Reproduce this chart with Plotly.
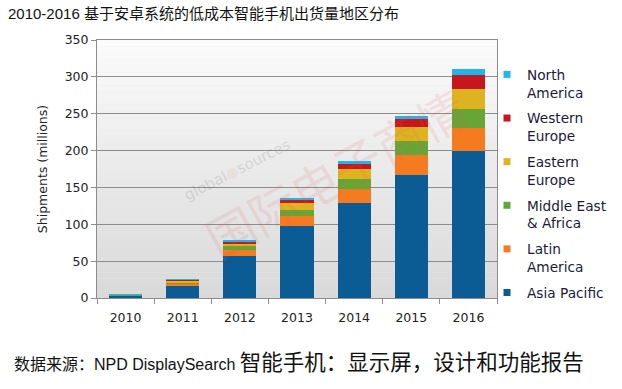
import plotly.graph_objects as go

years = ["2010", "2011", "2012", "2013", "2014", "2015", "2016"]
asia_pacific = [3.5, 17, 57, 98, 128.5, 167, 199]
latin_america = [0.4, 2, 8, 13.5, 19, 27, 31]
middle_east_africa = [0.3, 2.5, 5.5, 8, 13.5, 19, 27]
eastern_europe = [0.5, 2, 4, 9, 14, 19, 27]
western_europe = [0.2, 1, 2, 4.5, 6.5, 11, 19]
north_america = [0.1, 0.8, 1, 2.3, 4.5, 4, 8]

series = [
    ("Asia Pacific", asia_pacific, "#0B5C94"),
    ("Latin<br>America", latin_america, "#F47B20"),
    ("Middle East<br>& Africa", middle_east_africa, "#67A536"),
    ("Eastern<br>Europe", eastern_europe, "#DDB420"),
    ("Western<br>Europe", western_europe, "#C8161E"),
    ("North<br>America", north_america, "#22B5EC"),
]

font_main = "DejaVu Sans, Verdana, sans-serif"
cjk = "Liberation Sans, Arial, Noto Sans CJK SC, sans-serif"

fig = go.Figure()
for name, vals, col in series:
    fig.add_trace(go.Bar(x=years, y=vals, name=name, marker_color=col,
                         marker_line_width=0, showlegend=False))
# legend entries (small square symbols), North America first
for i, (name, vals, col) in enumerate(reversed(series)):
    fig.add_trace(go.Scatter(x=[None], y=[None], mode="markers", name=name,
                             legendgroup=str(i),
                             marker=dict(symbol="square", size=7, color=col)))

# gradient background bands
shapes = []
n = 40
for k in range(n):
    t = k / n
    v = int(218 + (252 - 218) * t)
    shapes.append(dict(type="rect", xref="paper", yref="paper", x0=0, x1=1,
                       y0=t, y1=(k + 1) / n, layer="below", line_width=0,
                       fillcolor=f"rgb({v},{v},{v})"))

fig.update_layout(
    width=622, height=389,
    margin=dict(l=97, r=125, t=40, b=91, autoexpand=False),
    barmode="stack", bargap=0.42,
    paper_bgcolor="white", plot_bgcolor="#e8e8e8",
    shapes=shapes,
    font=dict(family=font_main, size=12.5, color="#222222"),
    showlegend=True,
    title=dict(text="2010-2016 基于安卓系统的低成本智能手机出货量地区分布",
               x=8/622, xanchor="left", xref="container",
               y=1 - 14/389, yanchor="middle", yref="container",
               font=dict(family=cjk, size=15, color="#111111")),
    legend=dict(x=(487-97)/400, y=(298-59)/258, xanchor="left", yanchor="top",
                traceorder="grouped", tracegroupgap=5,
                valign="top", itemwidth=30,
                font=dict(family=font_main, size=13.7, color="#1a1a3a"),
                bgcolor="rgba(0,0,0,0)"),
)

ann = []
ann.append(dict(text="<span style='font-size:16px'>数据来源：NPD DisplaySearch </span>智能手机：显示屏，设计和功能报告",
                x=-97/400 + 12/400, y=-(363-298)/258, xref="paper", yref="paper",
                xanchor="left", yanchor="middle", showarrow=False,
                font=dict(family=cjk, size=21.5, color="#111111")))
# watermark
ann.append(dict(text="国际电子商情", x=(335-97)/400, y=(298-172)/258,
                xref="paper", yref="paper", showarrow=False, textangle=-29,
                font=dict(family="Noto Sans CJK SC", size=48, color="rgba(225,90,90,0.13)")))
ann.append(dict(text="global<span style='color:rgba(230,80,80,0.35)'>●</span>sources",
                x=(237-97)/400, y=(298-170)/258,
                xref="paper", yref="paper", showarrow=False, textangle=-27,
                font=dict(family="DejaVu Sans", size=15, color="rgba(120,120,120,0.22)")))
fig.update_layout(annotations=ann)

fig.update_yaxes(range=[0, 350], dtick=50, showgrid=True, gridcolor="#8c8c8c",
                 gridwidth=1, showline=True, linecolor="#8c8c8c", mirror=True,
                 ticks="outside", ticklen=5, tickcolor="#8c8c8c", zeroline=False,
                 automargin=False,
                 title=dict(text="Shipments (millions)", standoff=14,
                            font=dict(family=font_main, size=12.5, color="#222222")))
fig.update_xaxes(showline=True, linecolor="#8c8c8c", mirror=True,
                 ticks="outside", ticklen=5, tickcolor="#8c8c8c", automargin=False,
                 tickson="boundaries", showgrid=False, ticklabelstandoff=8)

fig.write_html("out.html", config={"displayModeBar": False},
               post_script="document.body.style.margin='0';")
